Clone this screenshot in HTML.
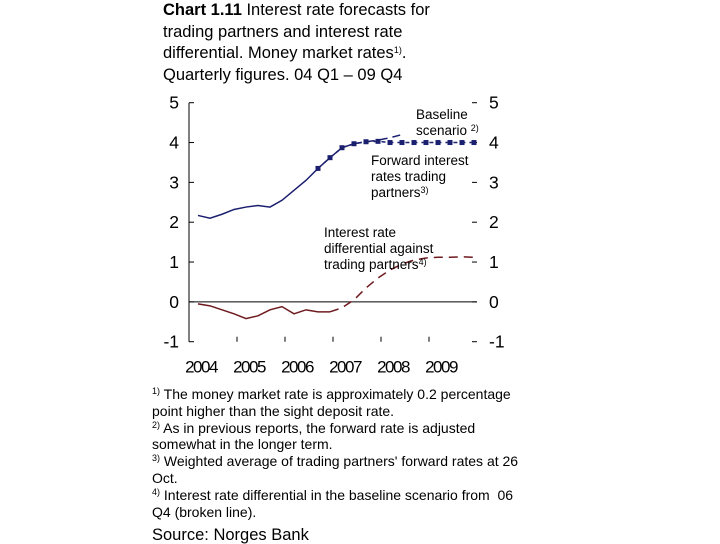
<!DOCTYPE html>
<html><head><meta charset="utf-8"><style>
body{margin:0;background:#fff;width:720px;height:540px;overflow:hidden;font-family:"Liberation Sans",sans-serif;position:relative}
.t{position:absolute;left:163px;top:0;font-size:16.5px;line-height:21.6px;color:#000}
.f{position:absolute;left:152px;top:386px;font-size:14px;line-height:16.8px;color:#000;white-space:nowrap}
sup{font-size:9px;vertical-align:top;position:relative;top:-3px}
</style></head><body>
<div class="t"><b>Chart 1.11</b> Interest rate forecasts for<br>trading partners and interest rate<br>differential. Money market rates<sup>1)</sup>.<br>Quarterly figures. 04 Q1 – 09 Q4</div>
<svg id="c" width="720" height="540" style="position:absolute;left:0;top:0"></svg>
<div class="f"><sup>1)</sup> The money market rate is approximately 0.2 percentage<br>point higher than the sight deposit rate.<br><sup>2)</sup> As in previous reports, the forward rate is adjusted<br>somewhat in the longer term.<br><sup>3)</sup> Weighted average of trading partners' forward rates at 26<br>Oct.<br><sup>4)</sup> Interest rate differential in the baseline scenario from &nbsp;06<br>Q4 (broken line).<div style="font-size:16.5px;margin-top:7px">Source: Norges Bank</div></div>
<script>
const years=['2004','2005','2006','2007','2008','2009'];
const yTicks=[5,4,3,2,1,0,-1];
const blueActual=[2.17,2.1,2.2,2.32,2.38,2.42,2.38,2.55,2.8,3.05,3.35,3.62,3.87,3.97];
const baseline=[3.97,4.02,4.06,4.12,4.2,4.26,4.3];
const forward=[3.35,3.62,3.87,3.97,4.02,4.03,4.0,4.0,4.0,4.0,4.0,4.0,4.0,4.0];
const diffActual=[-0.05,-0.1,-0.2,-0.3,-0.42,-0.35,-0.2,-0.12,-0.3,-0.2,-0.25,-0.25];
const diffBaseline=[-0.25,-0.15,0.05,0.35,0.6,0.8,0.95,1.05,1.1,1.12,1.12,1.13,1.12];
const L=189,R=477,T=102.7,B=341.7;
const x=i=>L+9+12*i;
const y=v=>T+(5-v)*(B-T)/6;
const svg=document.getElementById('c');const NS='http://www.w3.org/2000/svg';
function el(t,a,p){const e=document.createElementNS(NS,t);for(const k in a)e.setAttribute(k,a[k]);(p||svg).appendChild(e);return e;}
let e;
e=el('line',{x1:L,y1:T,x2:L,y2:B,stroke:'#000','stroke-width':1});

e=el('line',{x1:L,y1:y(0),x2:R,y2:y(0),stroke:'#000','stroke-width':1});

yTicks.forEach(v=>{
 el('line',{x1:L,y1:y(v),x2:L+5,y2:y(v),stroke:'#000'});
 el('line',{x1:R-5,y1:y(v),x2:R,y2:y(v),stroke:'#000'});
 e=el('text',{x:L-10,y:y(v)+6,'text-anchor':'end','font-size':17.5});e.textContent=v;
 
 e=el('text',{x:R+12,y:y(v)+6,'font-size':17.5});e.textContent=v;
 
});
years.forEach((yr,i)=>{
 if(i>0)el('line',{x1:L+48*i,y1:B,x2:L+48*i,y2:B-5,stroke:'#000'});
 e=el('text',{x:L+48*i+12,y:B+31,'text-anchor':'middle','font-size':17,'letter-spacing':'-1.5'});e.textContent=yr;
 
});
const pts=(a,o)=>a.map((v,i)=>x(i+o)+','+y(v)).join(' ');
e=el('polyline',{points:pts(blueActual,0),fill:'none',stroke:'#1a1f6e','stroke-width':1.5});

e=el('polyline',{points:pts(baseline,13),fill:'none',stroke:'#1a1f6e','stroke-width':1.5,'stroke-dasharray':'8,5'});

e=el('polyline',{points:pts(forward,10),fill:'none',stroke:'#1a1f6e','stroke-width':1.5,'stroke-dasharray':'4,4'});

forward.forEach((v,i)=>{e=el('rect',{x:x(i+10)-2.5,y:y(v)-2.5,width:5,height:5,fill:'#1a1f6e'});
 });
e=el('polyline',{points:pts(diffActual,0),fill:'none',stroke:'#6e1a1f','stroke-width':1.5});

e=el('polyline',{points:pts(diffBaseline,11),fill:'none',stroke:'#6e1a1f','stroke-width':1.5,'stroke-dasharray':'9,6'});

e=el('rect',{x:404,y:120,width:68,height:16,fill:'#fff'});
function lab(lines,lx,ly,name){lines.forEach((s,i)=>{const t=el('text',{x:lx,y:ly+i*16,'font-size':13.5});t.innerHTML=s;
 });}
lab(['Baseline','scenario <tspan font-size="9" dy="-4">2)</tspan>'],416,119,'baseline-label');
lab(['Forward interest','rates trading','partners<tspan font-size="9" dy="-4">3)</tspan>'],371,165,'forward-label');
lab(['Interest rate','differential against','trading partners<tspan font-size="9" dy="-4">4)</tspan>'],324,237,'diff-label');
</script>
</body></html>
